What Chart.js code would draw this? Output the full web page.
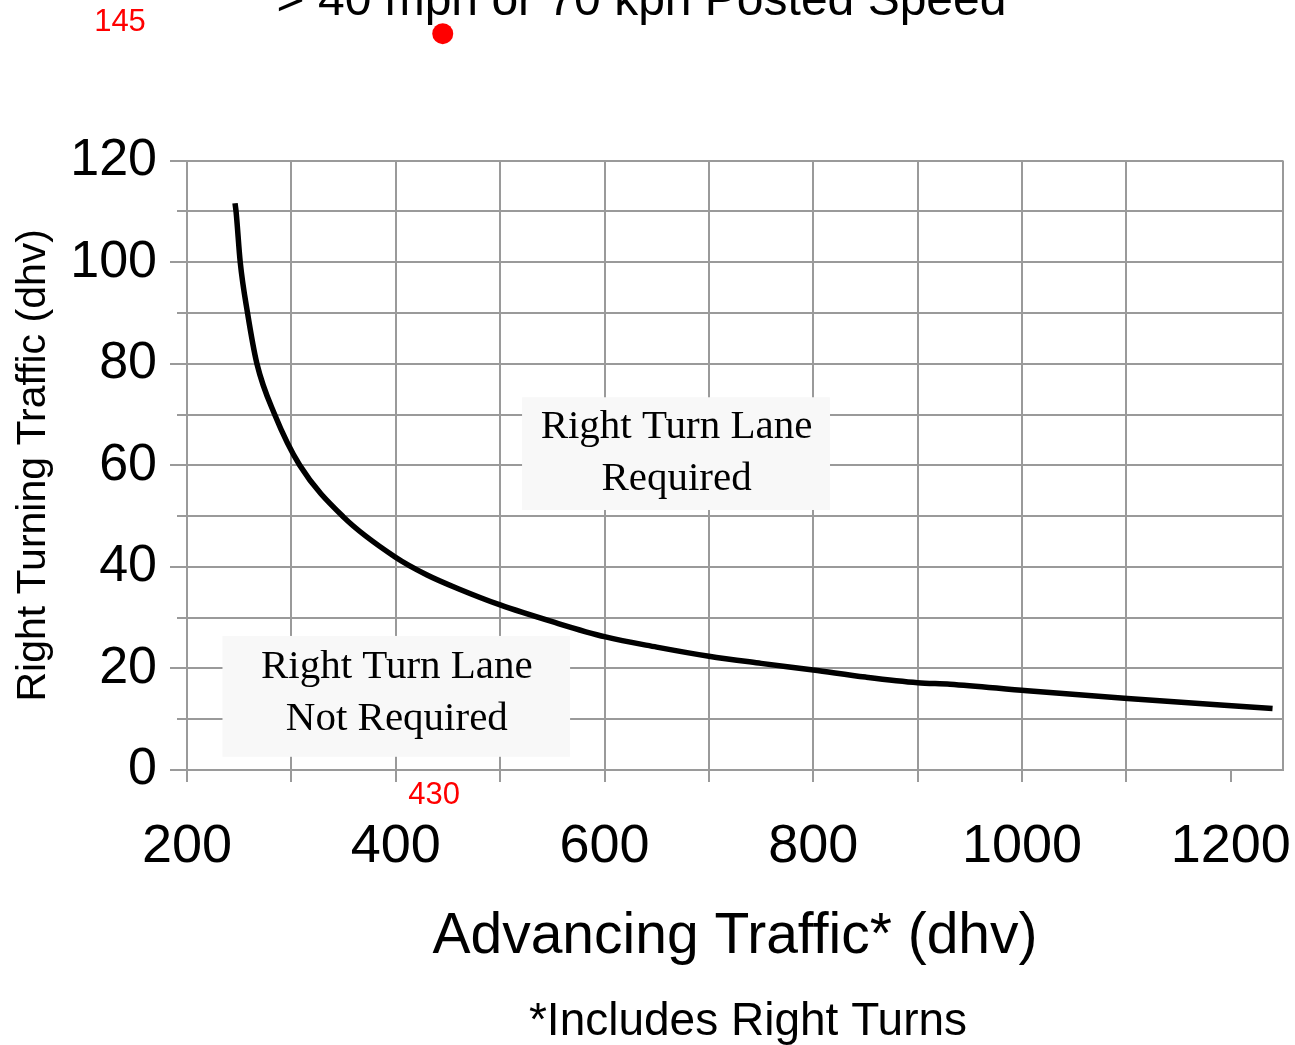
<!DOCTYPE html>
<html>
<head>
<meta charset="utf-8">
<script src="https://cdn.jsdelivr.net/npm/chart.js@4.4.1/dist/chart.umd.min.js"></script>
<style>
html,body{margin:0;padding:0;background:#ffffff;}
#wrap{width:1295px;height:1045px;position:relative;}
</style>
</head>
<body>
<div id="wrap"><canvas id="c" width="1295" height="1045"></canvas></div>
<script>
// ---- data ----
const advancingTraffic = [246, 247, 251, 258, 267, 284, 308, 350, 399, 430, 461, 500, 550, 601, 650, 700, 750, 800, 850, 900, 931, 1005, 1101, 1240];
const rightTurning     = [111.6, 110, 100, 90, 80, 70, 60, 49.8, 42.0, 38.4, 35.6, 32.5, 29.2, 26.2, 24.2, 22.4, 21.0, 19.7, 18.3, 17.2, 16.9, 15.6, 14.1, 12.1];

const markerX = [445];
const markerY = [145];
const markerTextY = '145';
const markerTextX = '430';
const markerTextXValue = [430];

const chartTitle = '> 40 mph or 70 kph Posted Speed';
const xTitle = 'Advancing Traffic* (dhv)';
const yTitle = 'Right Turning Traffic (dhv)';
const footnote = '*Includes Right Turns';

const xMin = 200, xMax = 1250, xStep = 100, xLabelStep = 200, xNoGrid = [1200];
const yMin = 0, yMax = 120, yMajor = 20, yMinor = 10;

const zoneLines = [['Right Turn Lane', 'Required'], ['Right Turn Lane', 'Not Required']];
const zoneBoxX  = [[521, 816], [234, 567]];
const zoneBoxY  = [[51.2, 73.4], [2.6, 26.4]];
const zoneTextX = [669, 401];
const zoneTextY = [[65.3, 55.1], [18.1, 7.9]];

const GRID = '#9a9a9a';
const SANS = '"Liberation Sans", Arial, sans-serif';
const SERIF = '"Liberation Serif", "Times New Roman", serif';

const overlay = {
  id: 'overlay',
  beforeDatasetsDraw(chart) {
    const {ctx, chartArea} = chart;
    const xs = chart.scales.x, ys = chart.scales.y;
    ctx.save();
    // right border of the plot frame
    ctx.strokeStyle = GRID;
    ctx.lineWidth = 2;
    ctx.beginPath();
    ctx.moveTo(Math.round(chartArea.right), chartArea.top);
    ctx.lineTo(Math.round(chartArea.right), chartArea.bottom);
    ctx.stroke();
    // zone labels
    zoneLines.forEach((lines, i) => {
      const x1 = xs.getPixelForValue(zoneBoxX[i][0]);
      const x2 = xs.getPixelForValue(zoneBoxX[i][1]);
      const y1 = ys.getPixelForValue(zoneBoxY[i][1]);
      const y2 = ys.getPixelForValue(zoneBoxY[i][0]);
      ctx.fillStyle = '#f8f8f8';
      ctx.fillRect(x1, y1, x2 - x1, y2 - y1);
      ctx.fillStyle = '#000';
      ctx.font = '41px ' + SERIF;
      ctx.textAlign = 'center';
      ctx.textBaseline = 'alphabetic';
      lines.forEach((t, j) => {
        ctx.fillText(t, xs.getPixelForValue(zoneTextX[i]), ys.getPixelForValue(zoneTextY[i][j]));
      });
    });
    ctx.restore();
  },
  afterDatasetsDraw(chart) {
    // the marker lies above the plot area; draw its point element without area culling
    const meta = chart.getDatasetMeta(1);
    chart.ctx.save();
    meta.data.forEach(p => p.draw(chart.ctx));
    chart.ctx.restore();
  },
  afterDraw(chart) {
    const {ctx, chartArea} = chart;
    const xs = chart.scales.x, ys = chart.scales.y;
    ctx.save();
    ctx.fillStyle = '#ff0000';
    ctx.font = '31px ' + SANS;
    ctx.textAlign = 'center';
    ctx.textBaseline = 'middle';
    ctx.fillText(markerTextY, chartArea.left - 67, ys.getPixelForValue(markerY[0]) - 11);
    ctx.fillText(markerTextX, xs.getPixelForValue(markerTextXValue[0]) + 7, chartArea.bottom + 25);
    ctx.fillStyle = '#000';
    ctx.font = '46px ' + SANS;
    ctx.textBaseline = 'alphabetic';
    ctx.fillText(footnote, 748, 1035);
    ctx.restore();
  }
};

new Chart(document.getElementById('c'), {
  type: 'scatter',
  data: {
    datasets: [
      {
        data: advancingTraffic.map((x, i) => ({x: x, y: rightTurning[i]})),
        showLine: true,
        borderColor: '#000000',
        borderWidth: 5.5,
        pointRadius: 0,
        cubicInterpolationMode: 'monotone',
        fill: false,
        xAxisID: 'x', yAxisID: 'y'
      },
      {
        data: markerX.map((x, i) => ({x: x, y: markerY[i]})),
        pointRadius: 10.5,
        pointBackgroundColor: '#ff0000',
        backgroundColor: '#ff0000',
        borderWidth: 0,
        pointBorderWidth: 0,
        clip: false,
        xAxisID: 'x', yAxisID: 'y'
      }
    ]
  },
  options: {
    responsive: false,
    animation: false,
    events: [],
    layout: {padding: {left: 0, right: 12, top: 0, bottom: 0}},
    plugins: {
      legend: {display: false},
      tooltip: {enabled: false},
      title: {
        display: true,
        text: chartTitle,
        color: '#000',
        font: {family: SANS, size: 48, weight: 'normal'},
        padding: {top: -27, bottom: 130}
      }
    },
    scales: {
      x: {
        type: 'linear',
        min: xMin, max: xMax,
        afterFit(s) { s.height = 275; s.paddingLeft = 0; s.paddingRight = 0; },
        ticks: {
          stepSize: xStep, includeBounds: false, autoSkip: false, maxRotation: 0, minRotation: 0,
          padding: 33, color: '#000',
          font: {family: SANS, size: 54},
          callback: v => (v % xLabelStep === 0 ? String(v) : '')
        },
        grid: {
          color: c => (c.tick && xNoGrid.includes(c.tick.value) ? 'rgba(0,0,0,0)' : GRID),
          tickColor: GRID, lineWidth: 2, tickLength: 12
        },
        border: {display: true, color: GRID, width: 2},
        title: {display: true, text: xTitle, color: '#000', font: {family: SANS, size: 57}, padding: {top: 0, bottom: 74}}
      },
      y: {
        type: 'linear', axis: 'y', position: 'left', weight: 1,
        min: yMin, max: yMax,
        afterFit(s) { s.width = 187; },
        ticks: {stepSize: yMajor, autoSkip: false, padding: 13, color: '#000', font: {family: SANS, size: 52}},
        grid: {color: GRID, lineWidth: 2, tickLength: 17},
        border: {display: true, color: GRID, width: 2},
        title: {display: true, text: yTitle, color: '#000', font: {family: SANS, size: 41}, padding: {top: 9, bottom: 0}}
      },
      y2: {
        type: 'linear', axis: 'y', position: 'left', weight: 0,
        min: yMin, max: yMax,
        afterFit(s) { s.width = 0; },
        ticks: {stepSize: yMinor, display: false},
        grid: {color: GRID, lineWidth: 2, tickLength: 10},
        border: {display: false}
      }
    }
  },
  plugins: [overlay]
});
</script>
</body>
</html>
